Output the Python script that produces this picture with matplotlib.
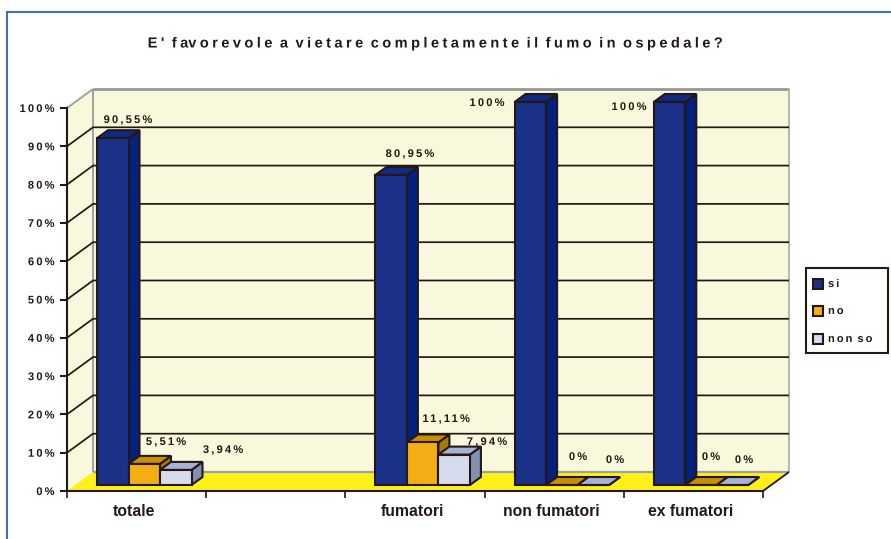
import matplotlib
matplotlib.use("Agg")
import matplotlib.pyplot as plt
import numpy as np
from matplotlib.patches import Polygon, Rectangle
from matplotlib.path import Path
from matplotlib.patheffects import AbstractPathEffect
from matplotlib.transforms import IdentityTransform

TITLE = "E' favorevole a vietare completamente il fumo in ospedale?"
categories = ["totale", "", "fumatori", "non fumatori", "ex fumatori"]
series_names = ["si", "no", "non so"]
si = [90.55, None, 80.95, 100, 100]
no = [5.51, None, 11.11, 0, 0]
non_so = [3.94, None, 7.94, 0, 0]
si_labels = ["90,55%", "", "80,95%", "100%", "100%"]
no_labels = ["5,51%", "", "11,11%", "0%", "0%"]
non_so_labels = ["3,94%", "", "7,94%", "0%", "0%"]
y_ticks = list(range(0, 101, 10))

INK = "#231815"
WALL = "#F8F8DC"
FLOOR = "#FFF01A"
GREY = "#A0A0A0"
FRONT = ["#1B3087", "#F2AE14", "#D6DBEE"]
TOP = ["#122A80", "#C98F00", "#A7B1D6"]
SIDE = ["#03217F", "#A87A08", "#8390AE"]
FONT = "Liberation Sans"


class LetterSpace(AbstractPathEffect):
    """Draw a text with extra pixels between its glyphs."""

    def __init__(self, spacing, anchor=0.5):
        super().__init__()
        self.spacing, self.anchor = spacing, anchor

    def draw_path(self, renderer, gc, tpath, affine, rgbFace=None):
        p = affine.transform_path(tpath)
        verts, codes = p.vertices.copy(), p.codes
        starts = np.flatnonzero(codes == Path.MOVETO)
        ends = list(starts[1:]) + [len(verts)]
        glyphs = []
        for a, b in zip(starts, ends):
            keep = codes[a:b] != Path.CLOSEPOLY
            lo, hi = verts[a:b][keep, 0].min(), verts[a:b][keep, 0].max()
            if glyphs and lo < glyphs[-1][1] and hi > glyphs[-1][0]:
                glyphs[-1][0] = min(lo, glyphs[-1][0])
                glyphs[-1][1] = max(hi, glyphs[-1][1])
                glyphs[-1][2].append((a, b))
            else:
                glyphs.append([lo, hi, [(a, b)]])
        extra = (len(glyphs) - 1) * self.spacing * self.anchor
        for i, (_, _, parts) in enumerate(glyphs):
            for a, b in parts:
                verts[a:b, 0] += i * self.spacing - extra
        renderer.draw_path(gc, Path(verts, codes), IdentityTransform(), rgbFace)


W, H = 891, 539
fig = plt.figure(figsize=(W / 100, H / 100), dpi=100)
L, R, T, B = 67, 763, 108, 491
ax = fig.add_axes([L / W, 1 - B / H, (R - L) / W, (B - T) / H])
ax.set_xlim(0, 5)
ax.set_ylim(0, 100)
ax.patch.set_visible(False)
for s in ("top", "right"):
    ax.spines[s].set_visible(False)
for s in ("left", "bottom"):
    ax.spines[s].set_color(INK)
    ax.spines[s].set_linewidth(1.5)
    ax.spines[s].set_zorder(3)

PX = 5 / (R - L)
PY = 100 / (B - T)
DX, DY = 26 * PX, 19 * PY  # depth of the 3-D box


def poly(pts, fc, ec="none", lw=0, z=1):
    ax.add_patch(Polygon(pts, closed=True, fc=fc, ec=ec, lw=lw, zorder=z,
                         clip_on=False, joinstyle="miter"))


# walls and floor
LINE = dict(zorder=1.5, clip_on=False, solid_capstyle="butt")
poly([(DX, DY), (5 + DX, DY), (5 + DX, 100 + DY), (DX, 100 + DY)], WALL)
poly([(0, 0), (DX, DY), (DX, 100 + DY), (0, 100)], WALL)
poly([(0, 0), (5, 0), (5 + DX, DY), (DX, DY)], FLOOR)
ax.plot([DX, DX], [DY, 100 + DY], color=GREY, lw=1.4, **LINE)
ax.plot([0, DX], [100, 100 + DY], color=GREY, lw=1.4, **LINE)
ax.plot([DX, 5 + DX], [100 + DY, 100 + DY], color="#979797", lw=2, **LINE)
ax.plot([5 + DX, 5 + DX], [100 + DY, DY], color="#B5B5B5", lw=1.4, **LINE)
ax.plot([DX, 5 + DX], [DY, DY], color=GREY, lw=1.6, **LINE)
ax.plot([5, 5 + DX], [0, DY], color=INK, lw=1.3, **LINE)
for v in y_ticks[:-1]:
    if v:
        ax.plot([0, DX, 5 + DX], [v, v + DY, v + DY], color=INK, lw=1.25,
                zorder=1.6, clip_on=False, solid_capstyle="butt")

# bars
BY = 6 * PY               # front face raised above the front plane
EX, EY = 11 * PX, 8 * PY  # bar depth
BW = 31.5 * PX
START = 30 * PX
for s, values in enumerate([si, no, non_so]):
    for c, v in enumerate(values):
        if v is None:
            continue
        x0 = c + START + s * BW
        x1 = x0 + BW
        y0, y1 = BY, v + BY
        kw = dict(ec=INK, lw=1.5, z=2 + c + s * 0.1)
        poly([(x1, y0), (x1 + EX, y0 + EY), (x1 + EX, y1 + EY), (x1, y1)], SIDE[s], **kw)
        poly([(x0, y1), (x1, y1), (x1 + EX, y1 + EY), (x0 + EX, y1 + EY)], TOP[s], **kw)
        poly([(x0, y0), (x1, y0), (x1, y1), (x0, y1)], FRONT[s], **kw)

# value labels
SP = 2.2
VAL = dict(family=FONT, fontweight="bold", fontsize=8, color=INK,
           ha="center", va="center", zorder=20, clip_on=False,
           path_effects=[LetterSpace(SP)])
label_px = {
    "si": [(128, 120), None, (410, 154), (487, 103), (629, 107)],
    "no": [(166, 442), None, (446, 419), (578, 457), (711, 457)],
    "non so": [(223, 450), None, (487, 442), (615, 460), (744, 460)],
}


def to_data(px, py):
    return (px - L) * PX, (B - py) * PY


for name, labels in zip(series_names, [si_labels, no_labels, non_so_labels]):
    for pos, text in zip(label_px[name], labels):
        if pos:
            ax.text(*to_data(*pos), text, **VAL)

# axes ticks
ax.set_yticks(y_ticks)
ax.set_yticklabels([f"{v}%" for v in y_ticks], family=FONT, fontweight="bold",
                   fontsize=8, color=INK)
for lab in ax.get_yticklabels():
    lab.set_path_effects([LetterSpace(SP, anchor=1.0)])
ax.tick_params(axis="y", length=5, width=1.5, color=INK, pad=4)
ax.set_xticks(range(6))
ax.set_xticklabels([])
ax.tick_params(axis="x", length=5, width=1.2, color=INK)
for c, text in enumerate(categories):
    if text:
        ax.text(c + 0.5 - 3 * PX, to_data(0, 512)[1], text,
                family=FONT, fontweight="bold", fontsize=11.3, color=INK,
                ha="center", va="center", clip_on=False)

# frame, title, legend in figure pixels
ov = fig.add_axes([0, 0, 1, 1], zorder=-1)
ov.set_xlim(0, W)
ov.set_ylim(H, 0)
ov.axis("off")
ov.add_patch(Rectangle((7, 12), W + 20, H + 20, fc="white", ec="#3E73B0", lw=1.5, clip_on=True))
fig.text(436.5 / W, 1 - 43.5 / H, TITLE, family=FONT, fontweight="bold", fontsize=10.5,
         color=INK, ha="center", va="center", path_effects=[LetterSpace(3.45)])

lg = fig.add_axes([0, 0, 1, 1], zorder=30)
lg.set_xlim(0, W)
lg.set_ylim(H, 0)
lg.axis("off")
lg.add_patch(Rectangle((806, 268), 82, 85, fc="white", ec=INK, lw=1.5))
for name, color, y in zip(series_names, FRONT, [284, 311, 339]):
    lg.add_patch(Rectangle((812.5, y - 5), 10, 10, fc=color, ec=INK, lw=1.5))
    lg.text(828, y, name, family=FONT, fontweight="bold", fontsize=8,
            color=INK, ha="left", va="center", path_effects=[LetterSpace(2, anchor=0)])

fig.savefig("out.png", dpi=100)
